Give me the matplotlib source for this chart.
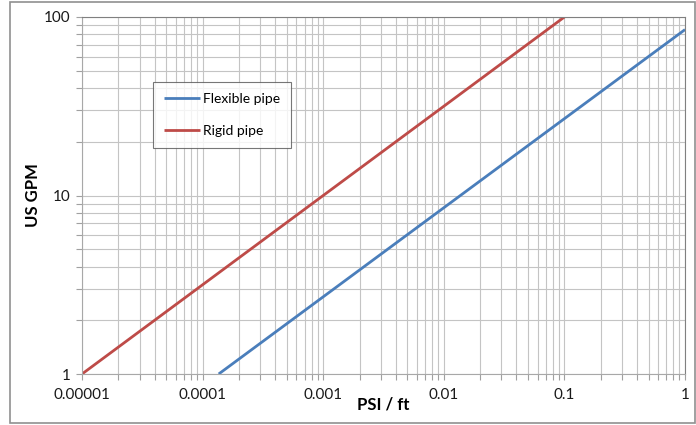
import matplotlib
matplotlib.use('Agg')
import matplotlib.pyplot as plt
from matplotlib.ticker import LogLocator, FixedLocator, FixedFormatter, NullFormatter
from matplotlib.patches import Rectangle

# flow vs. pressure drop, both straight lines on log-log axes
flex_x = [1.36e-4, 1.0]
flex_y = [1.0, 85.0]
rigid_x = [1e-5, 0.1]
rigid_y = [1.0, 100.0]

x_ticks = [1e-5, 1e-4, 1e-3, 1e-2, 1e-1, 1]
x_labels = ['0.00001', '0.0001', '0.001', '0.01', '0.1', '1']
y_ticks = [1, 10, 100]
y_labels = ['1', '10', '100']

plt.rcParams['font.family'] = ['Lato', 'DejaVu Sans']

fig = plt.figure(figsize=(6.96, 4.25), dpi=100)
ax = fig.add_axes([82/696, 1 - 374/425, 603/696, 357/425])

ax.plot(flex_x, flex_y, color='#4A7EBB', lw=2.0, label='Flexible pipe', solid_capstyle='butt')
ax.plot(rigid_x, rigid_y, color='#BE4B48', lw=2.0, label='Rigid pipe', solid_capstyle='butt')

ax.set_xscale('log')
ax.set_yscale('log')
ax.set_xlim(1e-5, 1)
ax.set_ylim(1, 100)

ax.xaxis.set_major_locator(FixedLocator(x_ticks))
ax.xaxis.set_major_formatter(FixedFormatter(x_labels))
ax.yaxis.set_major_locator(FixedLocator(y_ticks))
ax.yaxis.set_major_formatter(FixedFormatter(y_labels))
ax.xaxis.set_minor_locator(LogLocator(base=10, subs=range(2, 10), numticks=20))
ax.yaxis.set_minor_locator(LogLocator(base=10, subs=range(2, 10), numticks=20))
ax.xaxis.set_minor_formatter(NullFormatter())
ax.yaxis.set_minor_formatter(NullFormatter())

ax.grid(True, which='both', color='#C4C4C4', lw=0.8)
ax.set_axisbelow(True)
ax.tick_params(which='both', direction='out', color='#A0A0A0', length=4, width=0.8,
               labelsize=11, labelcolor='#1A1A1A')
ax.tick_params(axis='x', pad=6)
ax.tick_params(axis='y', pad=4)

for side in ['left', 'bottom']:
    ax.spines[side].set_color('#A8A8A8')
for side in ['top', 'right']:
    ax.spines[side].set_color('#808080')

ax.set_ylabel('US GPM', fontsize=12, fontweight='bold', labelpad=2)
ax.set_xlabel('PSI / ft', fontsize=12, fontweight='bold', labelpad=-4)

leg = ax.legend(loc='upper left', bbox_to_anchor=(71/603, 1 - 65/357), fontsize=10,
                frameon=True, fancybox=False, handlelength=2.6, handletextpad=0.2,
                labelspacing=1.4, borderpad=0.8, borderaxespad=0)
leg.get_frame().set_edgecolor('#555555')
leg.get_frame().set_linewidth(0.8)

# outer chart border
fig.patches.append(Rectangle((10/696, 2/425), 685/696, 421/425, transform=fig.transFigure,
                             fill=False, edgecolor='#909090', lw=1.2))

fig.savefig('out.png', dpi=100)
